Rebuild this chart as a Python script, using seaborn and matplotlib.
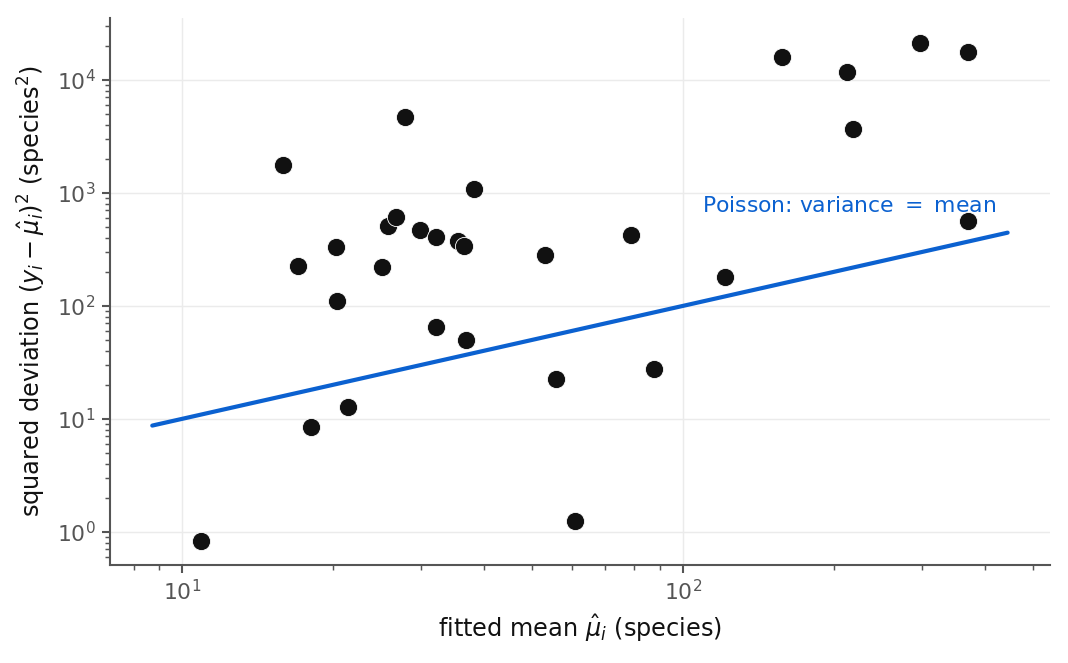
import numpy as np
import pandas as pd
import matplotlib
matplotlib.use("Agg")
import matplotlib.pyplot as plt
import seaborn as sns

# fitted means (species)
fitted_mean = [10.9, 15.9, 17.0, 18.1, 20.3, 20.4, 21.4, 25.1, 25.8, 26.7,
               27.9, 29.8, 32.1, 32.1, 35.5, 36.5, 36.9, 38.3, 53.0, 55.8,
               60.9, 78.7, 87.5, 121.3, 157.6, 212.4, 218.4, 297.0, 370.6, 370.6]
# squared deviations (species^2)
sq_dev = [0.83, 1770, 226, 8.5, 333, 111, 12.8, 221, 511, 613,
          4710, 470, 408, 65, 376, 340, 50, 1085, 283, 22.6,
          1.25, 425, 27.7, 180, 16000, 11800, 3680, 21200, 17700, 565]

annotation = "Poisson: variance $=$ mean"
xlabel = r"fitted mean $\hat{\mu}_i$ (species)"
ylabel = r"squared deviation $(y_i - \hat{\mu}_i)^2$ (species$^2$)"

sns.set_theme(style="white")
plt.rcParams["font.family"] = ["DejaVu Sans"]

df = pd.DataFrame({"mu": fitted_mean, "sq": sq_dev})
mu = np.array(fitted_mean)
ref = pd.DataFrame({"x": [mu.min() * 0.8, mu.max() * 1.2]})
ref["y"] = ref["x"]

fig = plt.figure(figsize=(7.12, 4.42), dpi=150)
ax = fig.add_axes([0.103, 0.148, 0.880, 0.825])

line_color = "#0b61d0"
sns.lineplot(data=ref, x="x", y="y", ax=ax, color=line_color, lw=2.0, zorder=2)
sns.scatterplot(data=df, x="mu", y="sq", ax=ax, color="#111111", s=76,
                edgecolor="white", linewidth=0.4, zorder=3)

ax.set_xscale("log")
ax.set_yscale("log")
ax.set_xlim(7.18, 540)
ax.set_ylim(0.51, 35400)

ax.grid(True, which="major", color="#ebebeb", linewidth=0.7)
ax.set_axisbelow(True)
for s in ["top", "right"]:
    ax.spines[s].set_visible(False)
for s in ["left", "bottom"]:
    ax.spines[s].set_color("#555555")
    ax.spines[s].set_linewidth(1.0)

ax.tick_params(axis="both", which="major", direction="out", length=4, width=1,
               color="#555555", labelcolor="#555555", labelsize=10.5, pad=3)
ax.tick_params(axis="both", which="minor", direction="out", length=2.5, width=0.7,
               color="#555555")
ax.tick_params(axis="x", which="both", bottom=True)
ax.tick_params(axis="y", which="both", left=True)

ax.set_xlabel(xlabel, fontsize=11.5, color="#111111", labelpad=4)
ax.set_ylabel(ylabel, fontsize=11.5, color="#111111", labelpad=4)

ax.text(109, 770, annotation, color=line_color, fontsize=10.5,
        ha="left", va="center")

fig.savefig("out.png", dpi=150)
